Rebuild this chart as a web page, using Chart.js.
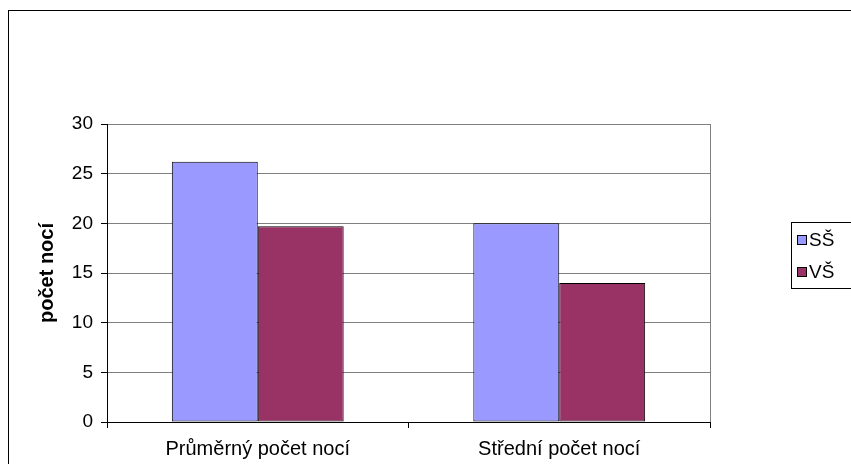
<!DOCTYPE html>
<html>
<head>
<meta charset="utf-8">
<script src="https://cdn.jsdelivr.net/npm/chart.js@4/dist/chart.umd.min.js"></script>
<style>
  html, body { margin: 0; padding: 0; background: #fff; }
  #c { display: block; }
</style>
</head>
<body>
<canvas id="c" width="851" height="464"></canvas>
<script>
// Categories and series
const categories = ['Průměrný počet nocí', 'Střední počet nocí'];
const seriesNames = ['SŠ', 'VŠ'];
const valuesSS = [26.2, 20.0];
const valuesVS = [19.7, 14.0];
const yTicks = [0, 5, 10, 15, 20, 25, 30];
const yTitle = 'počet nocí';

const FONT = '"Liberation Sans", Arial, sans-serif';
const colors = ['#9999FF', '#993366'];

// Chart frame, right-hand plot edge and boxed legend
const framePlugin = {
  id: 'frame',
  beforeDraw(chart) {
    const ctx = chart.ctx;
    ctx.save();
    ctx.fillStyle = '#fff';
    ctx.fillRect(0, 0, chart.width, chart.height);
    ctx.restore();
  },
  beforeDatasetsDraw(chart) {
    const { ctx, chartArea } = chart;
    ctx.save();
    ctx.strokeStyle = '#808080';
    ctx.lineWidth = 1;
    const x = Math.round(chartArea.right) + 0.5;
    ctx.beginPath();
    ctx.moveTo(x, chartArea.top);
    ctx.lineTo(x, chartArea.bottom);
    ctx.stroke();
    ctx.restore();
  },
  afterDraw(chart) {
    const ctx = chart.ctx;
    ctx.save();
    ctx.strokeStyle = '#000';
    ctx.lineWidth = 1;
    ctx.strokeRect(8.5, 10.5, 900, 500);

    // legend
    ctx.strokeRect(791.5, 222.5, 100, 66);
    ctx.font = '19px ' + FONT;
    ctx.textBaseline = 'middle';
    ctx.textAlign = 'left';
    const rows = [240, 272];
    chart.data.datasets.forEach((ds, i) => {
      const y = rows[i];
      ctx.fillStyle = ds.backgroundColor;
      ctx.fillRect(797, y - 5, 10, 10);
      ctx.strokeStyle = '#000';
      ctx.strokeRect(797.5, y - 4.5, 9, 9);
      ctx.fillStyle = '#000';
      ctx.fillText(ds.label, 809, y + 1);
    });
    ctx.restore();
  }
};

const chart = new Chart(document.getElementById('c'), {
  type: 'bar',
  data: {
    labels: categories,
    datasets: [
      { label: seriesNames[0], data: valuesSS, backgroundColor: colors[0] },
      { label: seriesNames[1], data: valuesVS, backgroundColor: colors[1] }
    ]
  },
  options: {
    responsive: false,
    devicePixelRatio: 1,
    animation: false,
    layout: { padding: { left: 0, top: 124, right: 141, bottom: 0 } },
    datasets: {
      bar: {
        categoryPercentage: 0.57,
        barPercentage: 1,
        borderColor: '#000',
        borderWidth: 1,
        borderSkipped: false
      }
    },
    plugins: {
      legend: { display: false },
      tooltip: { enabled: false }
    },
    scales: {
      x: {
        afterFit(s) { s.height = 42; },
        offset: true,
        grid: {
          offset: true,
          drawOnChartArea: false,
          drawTicks: true,
          tickLength: 6,
          tickColor: '#000'
        },
        border: { display: true, color: '#000' },
        ticks: { color: '#000', font: { family: FONT, size: 20 }, padding: 9, maxRotation: 0 }
      },
      y: {
        min: 0,
        max: 30,
        afterFit(s) { s.width = 107; },
        afterBuildTicks(s) { s.ticks = yTicks.map(v => ({ value: v })); },
        grid: { color: '#808080', tickColor: '#000', tickLength: 6 },
        border: { display: true, color: '#000' },
        ticks: { color: '#000', font: { family: FONT, size: 19 }, padding: 8 },
        title: {
          display: true,
          text: yTitle,
          color: '#000',
          font: { family: FONT, size: 20, weight: 'bold' },
          padding: { top: 35, bottom: 0 }
        }
      }
    }
  },
  plugins: [framePlugin]
});
</script>
</body>
</html>
